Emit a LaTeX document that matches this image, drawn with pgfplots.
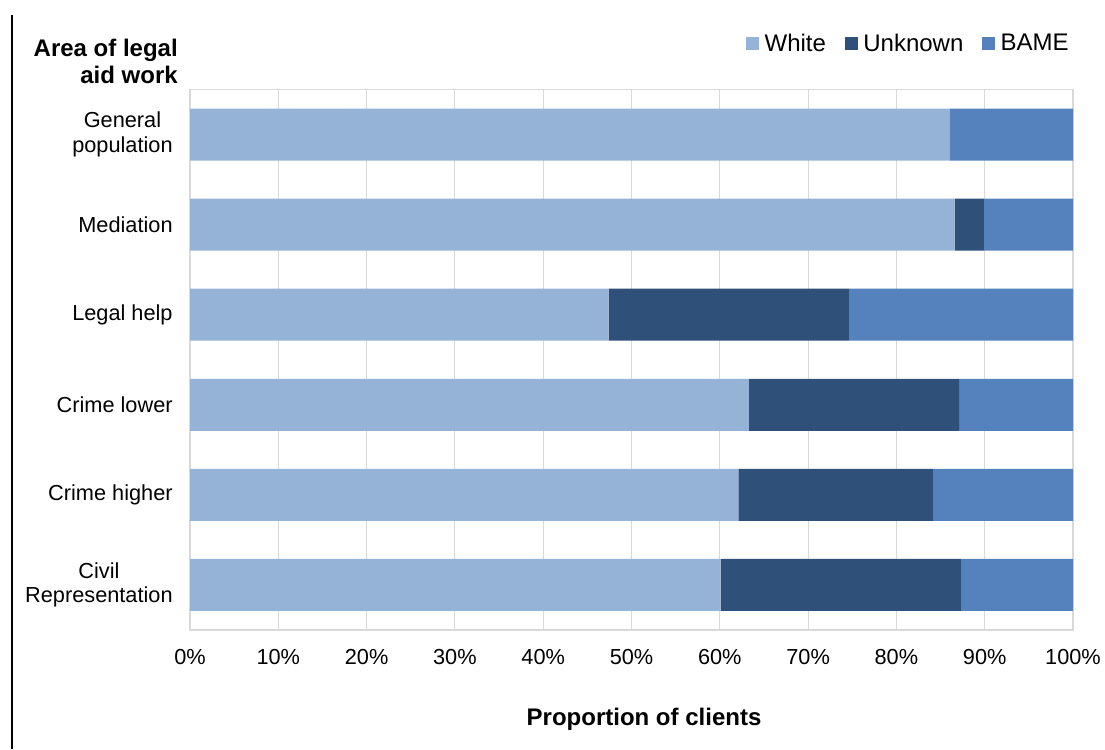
\documentclass[border=0pt]{standalone}
\usepackage{fontspec}
\setmainfont{Liberation Sans}
\usepackage{pgfplots}
\pgfplotsset{compat=1.18}
\definecolor{cWhite}{HTML}{95B3D7}
\definecolor{cUnk}{HTML}{2F5078}
\definecolor{cBame}{HTML}{5581BC}
\definecolor{cgrid}{HTML}{D9D9D9}
\begin{document}
\begin{tikzpicture}
\useasboundingbox (0pt,0pt) rectangle (828.75pt,561.75pt);
\draw[line width=1.1pt] (9pt,0pt) -- (9pt,550.5pt);
\begin{axis}[
  at={(142.5pt,89.25pt)}, anchor=south west,
  scale only axis, width=662.25pt, height=405.4pt,
  xbar stacked, bar width=39pt,
  xmin=0, xmax=100, ymin=-0.5, ymax=5.5,
  xtick={0,10,...,100},
  xticklabels={0\%,10\%,20\%,30\%,40\%,50\%,60\%,70\%,80\%,90\%,100\%},
  ytick={0,1,2,3,4,5},
  yticklabels={Civil\\Representation,Crime higher,Crime lower,Legal help,Mediation,General\\population},
  /pgf/number format/assume math mode=true,
  tick style={draw=none},
  xmajorgrids, major grid style={cgrid, line width=0.8pt},
  axis line style={cgrid, line width=0.8pt},
  tick label style={font=\fontsize{16.3}{18.5}\selectfont},
  yticklabel style={align=center, xshift=-9.5pt},
  xticklabel style={yshift=-11pt},
  legend style={at={(axis description cs:1.003,1)}, anchor=south east, yshift=23pt,
    draw=none, fill=none, font=\fontsize{18}{20}\selectfont,
    legend columns=3,
    /tikz/every even column/.append style={column sep=12pt},
    /tikz/every odd column/.append style={column sep=2pt}},
  legend image code/.code={\fill[#1] (0pt,-5pt) rectangle (10pt,5pt);},
]
\addplot[fill=cWhite, draw=none] coordinates {(60.1,0) (62.1,1) (63.3,2) (47.4,3) (86.6,4) (86.0,5)};
\addplot[fill=cUnk, draw=none] coordinates {(27.2,0) (22.1,1) (23.8,2) (27.3,3) (3.3,4) (0,5)};
\addplot[fill=cBame, draw=none] coordinates {(12.7,0) (15.8,1) (12.9,2) (25.3,3) (10.1,4) (14.0,5)};
\legend{White,Unknown,BAME}
\end{axis}
\node[anchor=base east, inner sep=0pt, font=\fontsize{18}{20}\selectfont\bfseries] at (133.5pt,519pt) {Area of legal};
\node[anchor=base east, inner sep=0pt, font=\fontsize{18}{20}\selectfont\bfseries] at (133.5pt,498.75pt) {aid work};
\node[anchor=base, inner sep=0pt, font=\fontsize{18}{20}\selectfont\bfseries] at (483pt,18pt) {Proportion of clients};
\end{tikzpicture}
\end{document}
